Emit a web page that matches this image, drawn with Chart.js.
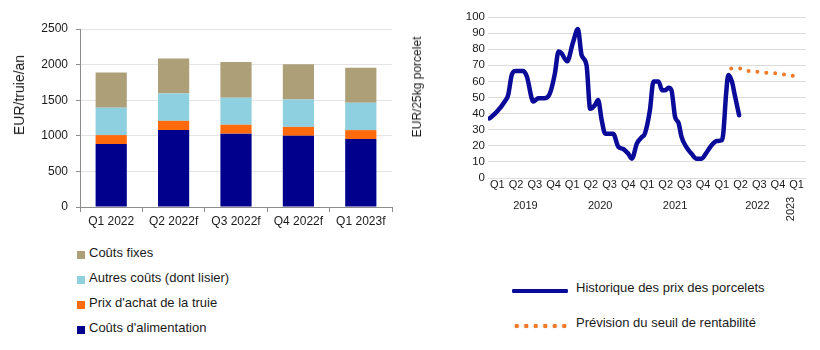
<!DOCTYPE html>
<html>
<head>
<meta charset="utf-8">
<script src="https://cdn.jsdelivr.net/npm/chart.js@4/dist/chart.umd.min.js"></script>
<style>
  body { margin: 0; width: 820px; height: 350px; background: #fff; position: relative; overflow: hidden;
         font-family: 'Liberation Sans', Arial, sans-serif; color: #1a1a1a; }
  canvas { position: absolute; top: 0; }
  #costChart { left: 0; }
  #priceChart { left: 400px; }
  .ytitle { position: absolute; white-space: nowrap; transform: translate(-50%, -50%) rotate(-90deg); }
  #costLegend { position: absolute; left: 77px; top: 240px; font-size: 13px; }
  #costLegend .item { height: 25px; display: flex; align-items: center; }
  #costLegend .box { width: 8px; height: 8px; margin-right: 4px; margin-top: 4px; }
  #priceLegend { position: absolute; left: 512px; top: 270px; font-size: 13px; }
  #priceLegend .item { height: 35px; display: flex; align-items: center; }
  #priceLegend .sample { width: 56px; height: 6px; margin-right: 8px; margin-top: 6px; }
</style>
</head>
<body>
<canvas id="costChart" width="410" height="232"></canvas>
<canvas id="priceChart" width="420" height="232"></canvas>
<div class="ytitle" style="left:19px; top:95px; font-size:14px">EUR/truie/an</div>
<div class="ytitle" style="left:417px; top:87px; font-size:12px">EUR/25kg porcelet</div>
<div id="costLegend"></div>
<div id="priceLegend"></div>
<script>
// coût de production par truie (EUR/truie/an)
const quarters = ['Q1 2022', 'Q2 2022f', 'Q3 2022f', 'Q4 2022f', 'Q1 2023f'];
const feedCost = [885, 1080, 1030, 1000, 955];
const sowPrice = [125, 130, 125, 125, 125];
const otherCost = [385, 385, 380, 385, 385];
const fixedCost = [495, 490, 500, 495, 490];

// prix du porcelet, semaines depuis début 2019
const priceWeeks = [1, 6, 12, 14, 16.5, 19, 24.5, 27, 31.5, 35, 39.5, 43, 46.5, 49, 51, 55, 59, 62.5, 65, 68.5,
  71, 74.5, 76.5, 79, 81.5, 87, 90.5, 94, 97.5, 100, 103.5, 107, 109, 112.5, 115, 118.5, 121, 123, 125.5, 127.5,
  130, 132.5, 134.5, 138, 141.5, 145, 148.5, 152, 155.5, 159, 162.5, 163.5, 165.5, 167, 169.5, 171.5, 174.5];
const pigletPrice = [37, 41, 48, 51.5, 64, 66.5, 66.5, 63, 47.5, 49.5, 49.5, 52.5, 65, 78.5, 77.5, 72.5, 84, 92.5, 76.5, 70,
  43, 45.5, 48.5, 36, 27.5, 27.5, 19.5, 18, 15, 12, 21.5, 25.5, 27.5, 42, 60, 60, 54.5, 54.5, 56, 54.5,
  38, 34, 25.5, 19, 15, 12, 12, 16, 20.5, 23, 23.5, 27.5, 52.5, 64, 60, 51.5, 39];

// seuil de rentabilité, mois depuis janvier 2019 (avr. 2022 -> mars 2023)
const forecastMonths = [39, 40, 41, 42, 43, 44, 45, 46, 47, 48, 49, 50];
const breakEven = [68, 68, 68, 66, 66, 66, 65, 65, 65, 63.5, 63.5, 63.5];

const quarterTicks = ['Q1', 'Q2', 'Q3', 'Q4', 'Q1', 'Q2', 'Q3', 'Q4', 'Q1', 'Q2', 'Q3', 'Q4', 'Q1', 'Q2', 'Q3', 'Q4', 'Q1'];
const years = ['2019', '2020', '2021', '2022', '2023'];

Chart.defaults.font.family = "'Liberation Sans', Arial, sans-serif";
Chart.defaults.color = '#1a1a1a';

const costDatasets = [
  { label: "Coûts d'alimentation", data: feedCost, backgroundColor: '#00008c' },
  { label: "Prix d'achat de la truie", data: sowPrice, backgroundColor: '#ff6a0d' },
  { label: 'Autres coûts (dont lisier)', data: otherCost, backgroundColor: '#8fd0e0' },
  { label: 'Coûts fixes', data: fixedCost, backgroundColor: '#ad9f78' }
];

new Chart(document.getElementById('costChart'), {
  type: 'bar',
  data: {
    labels: quarters,
    datasets: costDatasets.map(d => ({ ...d, barPercentage: 0.5, categoryPercentage: 1 }))
  },
  options: {
    responsive: false,
    animation: false,
    layout: { padding: { top: 29, right: 18 } },
    plugins: { legend: { display: false }, tooltip: { enabled: false } },
    scales: {
      x: {
        stacked: true,
        grid: { drawOnChartArea: false, offset: true, tickLength: 5, color: '#8c8c8c' },
        border: { color: '#8c8c8c' },
        ticks: { padding: 2, font: { size: 12 } },
        afterFit: s => { s.height = 25; }
      },
      y: {
        stacked: true, min: 0, max: 2500,
        ticks: { stepSize: 500, padding: 8, font: { size: 12 }, callback: v => String(v) },
        grid: { color: '#e4e4e4', tickColor: '#8c8c8c', tickLength: 4 },
        border: { color: '#8c8c8c' },
        afterFit: s => { s.width = 80; }
      }
    }
  }
});

const yearLabels = {
  id: 'yearLabels',
  afterDraw(chart) {
    const { ctx, scales: { x } } = chart;
    const centres = [2, 6, 10, 14.4, 16.2]; // en trimestres
    ctx.save();
    ctx.fillStyle = '#1a1a1a';
    ctx.font = "11px 'Liberation Sans', Arial, sans-serif";
    ctx.textAlign = 'center';
    ctx.textBaseline = 'middle';
    years.forEach((yr, i) => {
      const px = x.getPixelForValue(centres[i] * 13);
      ctx.save();
      if (i === years.length - 1) {
        ctx.translate(px, 209);
        ctx.rotate(-Math.PI / 2);
        ctx.fillText(yr, 0, 0);
      } else {
        ctx.fillText(yr, px, 206);
      }
      ctx.restore();
    });
    ctx.restore();
  }
};

const priceDatasets = [
  {
    label: 'Historique des prix des porcelets',
    data: priceWeeks.map((w, i) => ({ x: w, y: pigletPrice[i] })),
    borderColor: '#0b0b99', borderWidth: 4.5, pointRadius: 0,
    cubicInterpolationMode: 'monotone', borderJoinStyle: 'round', borderCapStyle: 'round'
  },
  {
    label: 'Prévision du seuil de rentabilité',
    data: forecastMonths.map((m, i) => ({ x: m * 52 / 12, y: breakEven[i] })),
    borderColor: '#f07a2a', borderWidth: 4, borderDash: [0, 9], borderCapStyle: 'round', pointRadius: 0
  }
];

new Chart(document.getElementById('priceChart'), {
  type: 'line',
  data: { datasets: priceDatasets },
  options: {
    responsive: false,
    animation: false,
    layout: { padding: { top: 17, right: 14 } },
    plugins: { legend: { display: false }, tooltip: { enabled: false } },
    scales: {
      x: {
        type: 'linear', min: 0, max: 221,
        grid: { display: false, drawTicks: false },
        border: { display: false },
        afterBuildTicks: s => { s.ticks = quarterTicks.map((_, i) => ({ value: (i + 0.5) * 13 })); },
        ticks: { autoSkip: false, maxRotation: 0, padding: 0, font: { size: 11 }, callback: (v, i) => quarterTicks[i] },
        afterFit: s => { s.height = 54; }
      },
      y: {
        min: 0, max: 100,
        ticks: { stepSize: 10, autoSkip: false, padding: 3, font: { size: 11.5 } },
        grid: { color: '#dcdcdc', drawTicks: false },
        border: { display: false },
        afterFit: s => { s.width = 88; }
      }
    }
  },
  plugins: [yearLabels]
});

// légendes
const costLegend = document.getElementById('costLegend');
costDatasets.slice().reverse().forEach(d => {
  const row = document.createElement('div');
  row.className = 'item';
  row.innerHTML = `<span class="box" style="background:${d.backgroundColor}"></span>${d.label}`;
  costLegend.appendChild(row);
});

const priceLegend = document.getElementById('priceLegend');
priceDatasets.forEach((d, i) => {
  const row = document.createElement('div');
  row.className = 'item';
  const bg = i === 0
    ? `linear-gradient(${d.borderColor}, ${d.borderColor}) center/100% 4px no-repeat`
    : `radial-gradient(circle, ${d.borderColor} 2px, transparent 2.6px) 0 0/9.5px 6px repeat-x`;
  row.innerHTML = `<span class="sample" style="background:${bg};border-radius:3px"></span>${d.label}`;
  priceLegend.appendChild(row);
});
</script>
</body>
</html>
